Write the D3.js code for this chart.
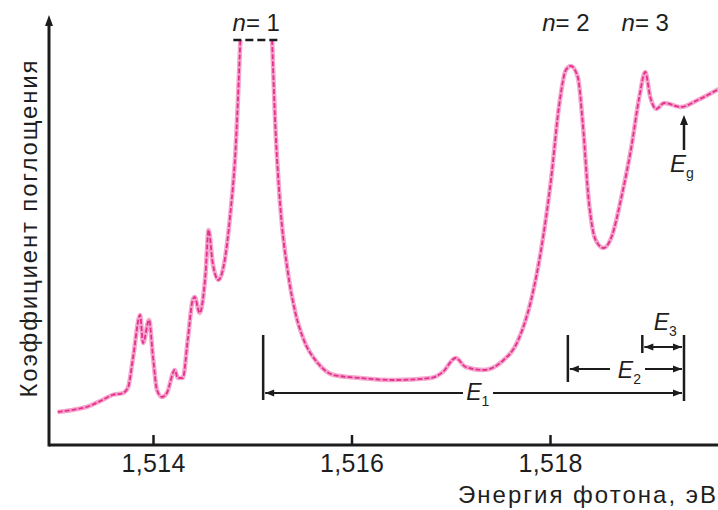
<!DOCTYPE html>
<html>
<head>
<meta charset="utf-8">
<script src="https://cdn.jsdelivr.net/npm/d3@7"></script>
<style>
  body { margin: 0; background: #fff; }
  svg { display: block; font-family: "Liberation Sans", Arial, sans-serif; }
</style>
</head>
<body>
<svg id="chart" width="718" height="510"></svg>
<script>
// photon energy, eV (null = off scale, n = 1 peak cut at top)
var energy = [
    1.51304, 1.51324, 1.51333, 1.51349, 1.51359, 1.51370, 1.51375, 1.51380,
    1.51387, 1.51390, 1.51396, 1.51400, 1.51404, 1.51409, 1.51414, 1.51422,
    1.51425, 1.51430, 1.51435, 1.51440, 1.51442, 1.51447, 1.51453, 1.51456,
    1.51460, 1.51466, 1.51471, 1.51478, 1.51483, 1.51488, 1.51504, 1.51520,
    1.51523, 1.51528, 1.51536, 1.51544, 1.51552, 1.51566, 1.51582, 1.51609,
    1.51642, 1.51680, 1.51692, 1.51705, 1.51715, 1.51733, 1.51751, 1.51768,
    1.51781, 1.51791, 1.51801, 1.51809, 1.51816, 1.51821, 1.51828, 1.51833,
    1.51839, 1.51846, 1.51854, 1.51862, 1.51872, 1.51882, 1.51890, 1.51896,
    1.51901, 1.51907, 1.51915, 1.51932, 1.51949, 1.51970
];
// absorption, arbitrary units
var absorption = [
    8.25, 9, 9.5, 11.25, 12.5, 13, 14.5, 22,
    32.5, 25.5, 31.25, 22, 13.75, 12, 13, 18.75,
    16.75, 16.75, 26.25, 36.25, 37, 33, 43, 53.75,
    45.75, 41.25, 44.5, 58, 73, 101.25, null, 101.25,
    81.25, 60.5, 43, 32.5, 26.25, 20.5, 17.5, 16.75,
    16.25, 16.75, 18.25, 21.75, 19.5, 18.75, 20.75, 26.25,
    36.25, 48.75, 66.25, 84.5, 93.75, 94.75, 92, 80.5,
    61.25, 51.25, 49.25, 52, 62, 74.5, 87, 93.25,
    87, 84, 85.5, 84.5, 86.25, 89
];

var xTicks = [1.514, 1.516, 1.518];
var xTickLabels = ['1,514', '1,516', '1,518'];

var peakNames = ['1', '2', '3'];
var peakLabelEnergy = [1.51504, 1.51816, 1.51896];
var levelEnergy = [1.51511, 1.51818, 1.51893];   // E1, E2, E3 start
var gapEnergy = 1.51935;                           // Eg
var offScale = [1.51488, 1.51520];                 // dashed cut of n = 1

var svg = d3.select('#chart');
var ink = '#1c1c1c';
var txt = '#1e1e1e';

var x = d3.scaleLinear().domain([1.514, 1.518]).range([153, 550]);
var y = d3.scaleLinear().domain([0, 100]).range([445, 45]);

// axes
svg.append('line')
    .attr('x1', 49).attr('x2', 718)
    .attr('y1', 445).attr('y2', 445)
    .attr('stroke', ink).attr('stroke-width', 3);
svg.append('line')
    .attr('x1', 49).attr('x2', 49)
    .attr('y1', 446.5).attr('y2', 22)
    .attr('stroke', ink).attr('stroke-width', 3);
svg.append('path')
    .attr('d', 'M49,15 L45,26 L53,26 Z')
    .attr('fill', ink);

var xAxis = d3.axisBottom(x)
    .tickValues(xTicks)
    .tickSize(0)
    .tickPadding(0)
    .tickFormat(function(d, i) { return xTickLabels[i]; });

var gx = svg.append('g')
    .attr('transform', 'translate(0,445)')
    .call(xAxis);
gx.select('.domain').remove();
gx.selectAll('.tick').append('line')
    .attr('y1', 0).attr('y2', -10)
    .attr('stroke', ink).attr('stroke-width', 2.5);
gx.selectAll('.tick text')
    .attr('y', 27)
    .attr('dy', 0)
    .attr('fill', txt)
    .attr('textLength', 64)
    .style('font-size', '25px')
    .style('font-family', '"Liberation Sans", Arial, sans-serif');

svg.append('text')
    .attr('x', 716).attr('y', 503)
    .attr('text-anchor', 'end')
    .attr('textLength', 258)
    .attr('fill', txt)
    .style('font-size', '24px')
    .text('Энергия фотона, эВ');

svg.append('text')
    .attr('transform', 'translate(37,229) rotate(-90)')
    .attr('text-anchor', 'middle')
    .attr('textLength', 337)
    .attr('fill', txt)
    .style('font-size', '24px')
    .text('Коэффициент поглощения');

// curve
var pts = energy.map(function(e, i) { return { e: e, v: absorption[i] }; });
var line = d3.line()
    .defined(function(d) { return d.v !== null; })
    .x(function(d) { return x(d.e); })
    .y(function(d) { return y(d.v); })
    .curve(d3.curveMonotoneX);

svg.append('path')
    .datum(pts)
    .attr('d', line)
    .attr('fill', 'none')
    .attr('stroke', '#f5a6cc')
    .attr('stroke-width', 4.5)
    .attr('stroke-linejoin', 'round');
svg.append('path')
    .datum(pts)
    .attr('d', line)
    .attr('fill', 'none')
    .attr('stroke', '#e5308e')
    .attr('stroke-width', 1.8)
    .attr('stroke-dasharray', '5,2')
    .attr('stroke-linejoin', 'round');

// dashed cut at the top of n = 1
svg.append('line')
    .attr('x1', x(offScale[0]) - 7).attr('x2', x(offScale[1]) + 9)
    .attr('y1', y(101.25)).attr('y2', y(101.25))
    .attr('stroke', ink).attr('stroke-width', 2.5)
    .attr('stroke-dasharray', '8,4');

// n labels
var nLabels = svg.selectAll('text.nlab')
    .data(peakNames)
    .enter().append('text')
    .attr('class', 'nlab')
    .attr('x', function(d, i) { return x(peakLabelEnergy[i]); })
    .attr('y', 31)
    .attr('text-anchor', 'middle')
    .attr('fill', txt)
    .style('font-size', '24px');
nLabels.append('tspan').style('font-style', 'italic').text('n');
nLabels.append('tspan').text(function(d) { return '= ' + d; });

function arrowHead(px, py, dir) {
    // dir: -1 points left, +1 points right, 'up'
    var p;
    if (dir === 'up') p = [[px, py], [px - 4, py + 10], [px + 4, py + 10]];
    else p = [[px, py], [px - dir * 9, py - 3.5], [px - dir * 9, py + 3.5]];
    svg.append('path')
        .attr('d', 'M' + p.join('L') + 'Z')
        .attr('fill', ink);
}

function eLabel(cx, by, sub, size) {
    var t = svg.append('text')
        .attr('x', cx).attr('y', by)
        .attr('text-anchor', 'middle')
        .attr('fill', txt)
        .style('font-size', (size || 24) + 'px')
        .style('font-style', 'italic');
    t.append('tspan').text('E');
    t.append('tspan')
        .attr('dy', 6)
        .style('font-size', '14px')
        .style('font-style', 'normal')
        .text(sub);
}

// Eg arrow
var xg = x(gapEnergy);
svg.append('line')
    .attr('x1', xg).attr('x2', xg)
    .attr('y1', 150).attr('y2', 122)
    .attr('stroke', ink).attr('stroke-width', 2.5);
arrowHead(xg, 115, 'up');
eLabel(xg - 2, 172, 'g');

// E1, E2, E3 brackets
var brackets = [
    { from: levelEnergy[0], yl: 393, bottom: 400, sub: '1', lx: 0.51, ly: 400, gap: [463, 493] },
    { from: levelEnergy[1], yl: 369, bottom: 382, sub: '2', lx: 0.53, ly: 378, gap: [610, 645] },
    { from: levelEnergy[2], yl: 347, bottom: 353, sub: '3', lx: 0.55, ly: 330, gap: null }
];
svg.append('line')
    .attr('x1', xg).attr('x2', xg)
    .attr('y1', 335).attr('y2', 401)
    .attr('stroke', ink).attr('stroke-width', 2.5);

brackets.forEach(function(b) {
    var x0 = x(b.from);
    svg.append('line')
        .attr('x1', x0).attr('x2', x0)
        .attr('y1', 335).attr('y2', b.bottom)
        .attr('stroke', ink).attr('stroke-width', 2.5);
    var segs = b.gap ? [[x0 + 2, b.gap[0]], [b.gap[1], xg - 2]] : [[x0 + 2, xg - 2]];
    segs.forEach(function(s) {
        svg.append('line')
            .attr('x1', s[0]).attr('x2', s[1])
            .attr('y1', b.yl).attr('y2', b.yl)
            .attr('stroke', ink).attr('stroke-width', 2);
    });
    arrowHead(x0 + 2, b.yl, -1);
    arrowHead(xg - 2, b.yl, 1);
    eLabel(x0 + (xg - x0) * b.lx, b.ly, b.sub, 23);
});
</script>
</body>
</html>
